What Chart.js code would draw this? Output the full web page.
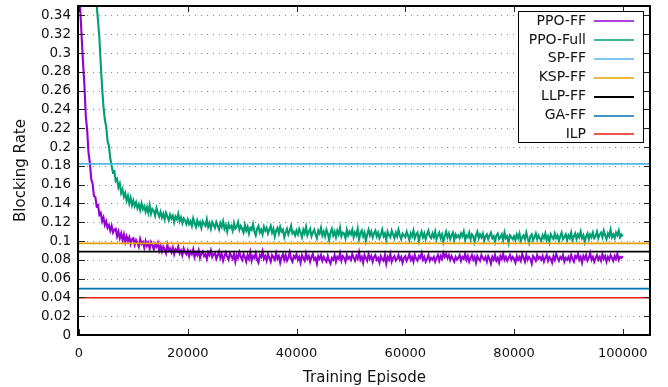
<!DOCTYPE html>
<html>
<head>
<meta charset="utf-8">
<script src="https://cdn.jsdelivr.net/npm/chart.js@4.4.0/dist/chart.umd.min.js"></script>
<style>
  html, body { margin: 0; padding: 0; background: #fff; }
  #chart { display: block; }
</style>
</head>
<body>
<canvas id="chart" width="668" height="387"></canvas>
<script>
// ====== DATA ======
// PPO curves are sampled every 250 training episodes (0 .. 100000)
const episodeStep = 250;

const ppoFF = [
  0.372, 0.344, 0.316, 0.289, 0.265, 0.233, 0.218, 0.194, 0.183, 0.166, 0.161, 0.148, 0.147, 0.137, 0.138, 0.128, 0.130, 0.121, 0.125, 0.117,
  0.121, 0.114, 0.117, 0.111, 0.116, 0.109, 0.112, 0.113, 0.105, 0.110, 0.103, 0.108, 0.101, 0.107, 0.099, 0.105, 0.100, 0.104, 0.097, 0.102,
  0.103, 0.096, 0.101, 0.098, 0.094, 0.102, 0.097, 0.099, 0.093, 0.100, 0.095, 0.098, 0.092, 0.099, 0.096, 0.091, 0.097, 0.094, 0.098, 0.090,
  0.095, 0.089, 0.094, 0.091, 0.087, 0.096, 0.090, 0.092, 0.088, 0.093, 0.086, 0.091, 0.089, 0.094, 0.087, 0.090, 0.085, 0.092, 0.088, 0.086,
  0.090, 0.084, 0.089, 0.086, 0.091, 0.083, 0.088, 0.085, 0.090, 0.082, 0.087, 0.089, 0.084, 0.086, 0.081, 0.088, 0.085, 0.090, 0.083, 0.086,
  0.087, 0.081, 0.085, 0.089, 0.082, 0.086, 0.079, 0.084, 0.088, 0.083, 0.080, 0.087, 0.084, 0.081, 0.086, 0.078, 0.085, 0.082, 0.088, 0.083,
  0.080, 0.086, 0.083, 0.078, 0.085, 0.081, 0.088, 0.079, 0.084, 0.082, 0.087, 0.080, 0.077, 0.085, 0.083, 0.089, 0.081, 0.084, 0.079, 0.086,
  0.082, 0.078, 0.085, 0.083, 0.080, 0.087, 0.081, 0.084, 0.077, 0.083, 0.086, 0.080, 0.085, 0.079, 0.082, 0.088, 0.081, 0.078, 0.084, 0.082,
  0.086, 0.080, 0.083, 0.077, 0.085, 0.082, 0.079, 0.087, 0.081, 0.084, 0.078, 0.083, 0.086, 0.080, 0.082, 0.076, 0.084, 0.081, 0.085, 0.079,
  0.083, 0.080, 0.078, 0.084, 0.079, 0.076, 0.082, 0.080, 0.085, 0.078, 0.083, 0.081, 0.087, 0.079, 0.084, 0.082, 0.078, 0.085, 0.081, 0.083,
  0.080, 0.086, 0.082, 0.079, 0.084, 0.081, 0.088, 0.080, 0.083, 0.077, 0.085, 0.082, 0.079, 0.086, 0.081, 0.084, 0.078, 0.083, 0.085, 0.080,
  0.082, 0.077, 0.084, 0.081, 0.079, 0.085, 0.076, 0.083, 0.080, 0.086, 0.078, 0.082, 0.084, 0.079, 0.081, 0.085, 0.080, 0.083, 0.077, 0.082,
  0.084, 0.079, 0.082, 0.086, 0.080, 0.083, 0.078, 0.085, 0.081, 0.079, 0.084, 0.082, 0.087, 0.080, 0.083, 0.078, 0.081, 0.085, 0.079, 0.082,
  0.080, 0.083, 0.078, 0.082, 0.085, 0.079, 0.084, 0.081, 0.087, 0.083, 0.086, 0.082, 0.085, 0.080, 0.084, 0.081, 0.078, 0.083, 0.080, 0.082,
  0.085, 0.079, 0.083, 0.081, 0.086, 0.080, 0.084, 0.078, 0.082, 0.085, 0.080, 0.083, 0.077, 0.084, 0.081, 0.079, 0.085, 0.082, 0.080, 0.083,
  0.078, 0.084, 0.081, 0.076, 0.083, 0.080, 0.085, 0.079, 0.082, 0.077, 0.084, 0.081, 0.086, 0.080, 0.083, 0.079, 0.082, 0.085, 0.080, 0.083,
  0.081, 0.077, 0.084, 0.080, 0.083, 0.079, 0.086, 0.082, 0.078, 0.085, 0.080, 0.083, 0.081, 0.076, 0.084, 0.082, 0.079, 0.085, 0.081, 0.083,
  0.080, 0.084, 0.078, 0.082, 0.085, 0.079, 0.083, 0.081, 0.077, 0.084, 0.080, 0.086, 0.082, 0.079, 0.083, 0.081, 0.085, 0.078, 0.082, 0.080,
  0.083, 0.079, 0.085, 0.081, 0.078, 0.084, 0.082, 0.086, 0.080, 0.083, 0.077, 0.084, 0.081, 0.085, 0.079, 0.082, 0.087, 0.080, 0.083, 0.078,
  0.082, 0.085, 0.080, 0.083, 0.079, 0.086, 0.081, 0.084, 0.078, 0.083, 0.080, 0.085, 0.082, 0.079, 0.084, 0.081, 0.086, 0.080, 0.083, 0.082,
  0.084
];

const ppoFull = [
  0.600, 0.582, 0.558, 0.541, 0.519, 0.502, 0.478, 0.463, 0.444, 0.430, 0.411, 0.397, 0.372, 0.351, 0.334, 0.316, 0.288, 0.263, 0.243, 0.229,
  0.222, 0.206, 0.201, 0.188, 0.180, 0.173, 0.174, 0.164, 0.166, 0.157, 0.161, 0.151, 0.155, 0.147, 0.151, 0.143, 0.148, 0.140, 0.146, 0.138,
  0.143, 0.137, 0.141, 0.135, 0.139, 0.133, 0.140, 0.134, 0.137, 0.131, 0.136, 0.130, 0.138, 0.129, 0.134, 0.132, 0.127, 0.135, 0.130, 0.126,
  0.131, 0.125, 0.129, 0.123, 0.130, 0.126, 0.122, 0.128, 0.124, 0.127, 0.120, 0.126, 0.123, 0.129, 0.121, 0.125, 0.119, 0.124, 0.122, 0.118,
  0.123, 0.118, 0.121, 0.116, 0.124, 0.119, 0.115, 0.122, 0.117, 0.120, 0.114, 0.121, 0.118, 0.116, 0.123, 0.115, 0.119, 0.113, 0.120, 0.117,
  0.114, 0.120, 0.116, 0.112, 0.119, 0.115, 0.121, 0.113, 0.117, 0.110, 0.118, 0.114, 0.116, 0.111, 0.119, 0.113, 0.115, 0.120, 0.112, 0.116,
  0.113, 0.109, 0.117, 0.111, 0.115, 0.108, 0.114, 0.112, 0.118, 0.110, 0.106, 0.113, 0.116, 0.109, 0.112, 0.107, 0.115, 0.111, 0.114, 0.108,
  0.112, 0.116, 0.109, 0.113, 0.105, 0.111, 0.114, 0.108, 0.115, 0.110, 0.112, 0.104, 0.109, 0.113, 0.107, 0.111, 0.116, 0.108, 0.110, 0.106,
  0.111, 0.107, 0.113, 0.109, 0.104, 0.112, 0.108, 0.115, 0.106, 0.110, 0.113, 0.105, 0.109, 0.112, 0.107, 0.103, 0.111, 0.108, 0.114, 0.106,
  0.110, 0.105, 0.112, 0.108, 0.101, 0.109, 0.113, 0.106, 0.110, 0.104, 0.111, 0.107, 0.114, 0.105, 0.109, 0.108, 0.103, 0.112, 0.106, 0.110,
  0.107, 0.112, 0.104, 0.109, 0.106, 0.113, 0.102, 0.108, 0.111, 0.105, 0.109, 0.100, 0.107, 0.112, 0.106, 0.110, 0.104, 0.108, 0.111, 0.105,
  0.109, 0.103, 0.107, 0.112, 0.105, 0.108, 0.101, 0.110, 0.106, 0.104, 0.111, 0.107, 0.103, 0.109, 0.105, 0.112, 0.106, 0.102, 0.108, 0.106,
  0.104, 0.110, 0.106, 0.101, 0.108, 0.105, 0.111, 0.103, 0.107, 0.109, 0.100, 0.106, 0.110, 0.104, 0.108, 0.102, 0.107, 0.111, 0.105, 0.103,
  0.108, 0.104, 0.110, 0.102, 0.106, 0.109, 0.103, 0.107, 0.099, 0.105, 0.110, 0.104, 0.108, 0.102, 0.106, 0.109, 0.101, 0.107, 0.104, 0.106,
  0.103, 0.108, 0.105, 0.110, 0.101, 0.106, 0.104, 0.109, 0.102, 0.107, 0.105, 0.099, 0.106, 0.110, 0.103, 0.107, 0.104, 0.108, 0.100, 0.105,
  0.107, 0.102, 0.106, 0.109, 0.103, 0.105, 0.099, 0.106, 0.108, 0.102, 0.104, 0.107, 0.101, 0.109, 0.103, 0.105, 0.098, 0.106, 0.104, 0.102,
  0.105, 0.101, 0.107, 0.103, 0.108, 0.100, 0.104, 0.106, 0.102, 0.109, 0.103, 0.098, 0.105, 0.107, 0.101, 0.104, 0.108, 0.102, 0.106, 0.103,
  0.100, 0.106, 0.103, 0.108, 0.101, 0.105, 0.099, 0.107, 0.104, 0.102, 0.108, 0.103, 0.106, 0.100, 0.105, 0.109, 0.102, 0.104, 0.107, 0.101,
  0.106, 0.103, 0.109, 0.101, 0.105, 0.108, 0.102, 0.107, 0.104, 0.110, 0.103, 0.106, 0.099, 0.105, 0.108, 0.102, 0.107, 0.104, 0.109, 0.103,
  0.105, 0.110, 0.103, 0.107, 0.109, 0.104, 0.111, 0.106, 0.102, 0.108, 0.105, 0.112, 0.104, 0.107, 0.103, 0.109, 0.106, 0.111, 0.104, 0.107,
  0.105
];

// constant baselines (blocking rate of the heuristics)
const baselineNames = ["SP-FF", "KSP-FF", "LLP-FF", "GA-FF", "ILP"];
const baselineValues = [0.182, 0.0975, 0.0887, 0.0493, 0.0397];

const xTickValues = [0, 20000, 40000, 60000, 80000, 100000];
const yTickValues = [0, 0.02, 0.04, 0.06, 0.08, 0.1, 0.12, 0.14, 0.16, 0.18, 0.2, 0.22, 0.24, 0.26, 0.28, 0.3, 0.32, 0.34];
const xMax = 105000;
const yMax = 0.35;

// ====== STYLE ======
const FONT = "'DejaVu Sans', Verdana, sans-serif";
const colors = {
  "PPO-FF": "#9400d3",
  "PPO-Full": "#009e73",
  "SP-FF": "#56b4e9",
  "KSP-FF": "#e69f00",
  "LLP-FF": "#000000",
  "GA-FF": "#0072b2",
  "ILP": "#e51e10",
};

Chart.defaults.font.family = FONT;
Chart.defaults.color = "#111";

const episodes = ppoFF.map((_, i) => i * episodeStep);

function series(label, values, order) {
  return {
    label,
    data: values.map((v, i) => ({ x: episodes[i], y: v })),
    borderColor: colors[label],
    borderWidth: 2.1,
    pointRadius: 0,
    tension: 0,
    clip: 0,
    order,
  };
}

const datasets = [series("PPO-FF", ppoFF, 10), series("PPO-Full", ppoFull, 9)];
baselineNames.forEach((name, k) => {
  datasets.push({
    label: name,
    data: [{ x: 0, y: baselineValues[k] }, { x: xMax, y: baselineValues[k] }],
    borderColor: colors[name],
    borderWidth: 1.6,
    pointRadius: 0,
    clip: 0,
    order: 8 - k,
  });
});

// ====== GRID, FRAME, LEGEND (gnuplot look) ======
const gnuplotFrame = {
  id: "gnuplotFrame",
  beforeDatasetsDraw(chart) {
    const { ctx, chartArea: a, scales: { y } } = chart;
    ctx.save();
    ctx.strokeStyle = "#888";
    ctx.lineWidth = 1;
    ctx.setLineDash([1, 5]);
    yTickValues.forEach((v) => {
      if (v === 0) return;
      const py = Math.round(y.getPixelForValue(v)) + 0.5;
      ctx.beginPath();
      ctx.moveTo(a.left + 2, py);
      ctx.lineTo(a.right, py);
      ctx.stroke();
    });
    ctx.restore();
  },
  afterDatasetsDraw(chart) {
    const { ctx, chartArea: a, scales: { x, y } } = chart;
    ctx.save();
    // inward tick marks on all four sides
    ctx.strokeStyle = "#222";
    ctx.lineWidth = 1;
    const tl = 6;
    yTickValues.forEach((v) => {
      const py = Math.round(y.getPixelForValue(v)) + 0.5;
      ctx.beginPath();
      ctx.moveTo(a.left, py); ctx.lineTo(a.left + tl, py);
      ctx.moveTo(a.right, py); ctx.lineTo(a.right - tl, py);
      ctx.stroke();
    });
    xTickValues.forEach((v) => {
      const px = Math.round(x.getPixelForValue(v)) + 0.5;
      ctx.beginPath();
      ctx.moveTo(px, a.bottom); ctx.lineTo(px, a.bottom - tl);
      ctx.moveTo(px, a.top); ctx.lineTo(px, a.top + tl);
      ctx.stroke();
    });
    // border box
    ctx.strokeStyle = "#000";
    ctx.lineWidth = 2;
    ctx.strokeRect(a.left - 1, a.top, a.right - a.left + 1, a.bottom - a.top);

    // key box
    const box = { left: 518, top: 11, right: 643, bottom: 142 };
    ctx.fillStyle = "#fff";
    ctx.fillRect(box.left, box.top, box.right - box.left, box.bottom - box.top);
    ctx.strokeStyle = "#000";
    ctx.lineWidth = 1;
    ctx.strokeRect(box.left + 0.5, box.top + 0.5, box.right - box.left, box.bottom - box.top);

    ctx.font = "14px " + FONT;
    ctx.textAlign = "right";
    ctx.textBaseline = "middle";
    chart.data.datasets.forEach((ds, i) => {
      const cy = 21 + i * 18.9;
      ctx.fillStyle = "#111";
      ctx.fillText(ds.label, 586, cy);
      ctx.strokeStyle = ds.borderColor;
      ctx.globalAlpha = ds.label === "LLP-FF" ? 1 : 0.75;
      ctx.lineWidth = 2;
      ctx.beginPath();
      ctx.moveTo(594, Math.round(cy));
      ctx.lineTo(634, Math.round(cy));
      ctx.stroke();
      ctx.globalAlpha = 1;
    });
    ctx.restore();
  },
};

// ====== CHART ======
new Chart(document.getElementById("chart"), {
  type: "line",
  data: { datasets },
  options: {
    responsive: false,
    animation: false,
    events: [],
    layout: { padding: { left: 0, top: 6, right: 18, bottom: 0 } },
    plugins: { legend: { display: false }, tooltip: { enabled: false } },
    scales: {
      x: {
        type: "linear",
        min: 0,
        max: xMax,
        afterFit: (s) => { s.height = 52; s.paddingLeft = 0; s.paddingRight = 0; },
        afterBuildTicks: (s) => { s.ticks = xTickValues.map((v) => ({ value: v })); },
        grid: { display: false, drawTicks: false },
        border: { display: false },
        ticks: {
          padding: 11,
          maxRotation: 0,
          autoSkip: false,
          font: { size: 13 },
          callback: (v) => String(v),
        },
        title: {
          display: true,
          text: "Training Episode",
          font: { size: 15 },
          padding: { top: 0, bottom: 0 },
        },
      },
      y: {
        type: "linear",
        min: 0,
        max: yMax,
        afterFit: (s) => { s.width = 79; s.paddingTop = 0; s.paddingBottom = 0; },
        afterBuildTicks: (s) => { s.ticks = yTickValues.map((v) => ({ value: v })); },
        grid: { display: false, drawTicks: false },
        border: { display: false },
        ticks: {
          padding: 8,
          autoSkip: false,
          font: { size: 13.5 },
          callback: (v) => String(+v.toFixed(2)),
        },
        title: {
          display: true,
          text: "Blocking Rate",
          font: { size: 15 },
          padding: { top: 12, bottom: 0 },
        },
      },
    },
  },
  plugins: [gnuplotFrame],
});
</script>
</body>
</html>
